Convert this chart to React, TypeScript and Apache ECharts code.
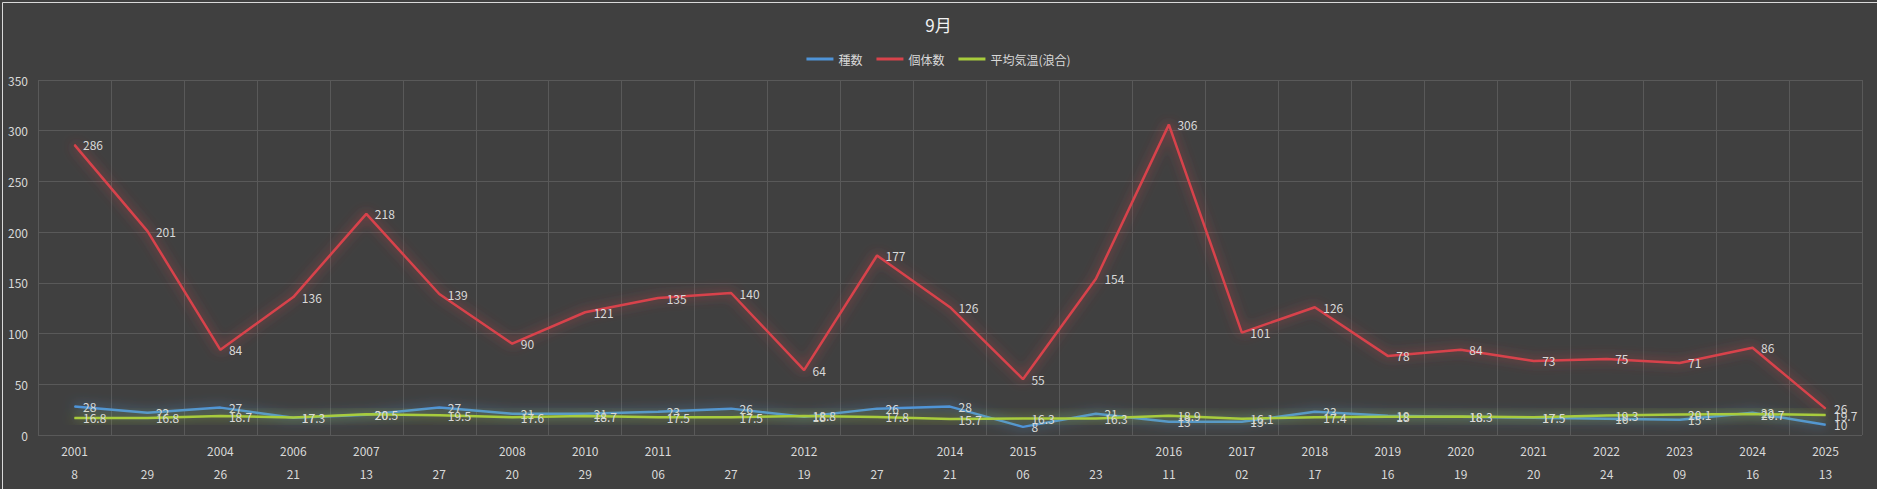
import React, { useEffect, useRef } from "react";
import * as echarts from "echarts";

const years = ["2001", "", "2004", "2006", "2007", "", "2008", "2010", "2011", "", "2012", "", "2014", "2015", "", "2016", "2017", "2018", "2019", "2020", "2021", "2022", "2023", "2024", "2025"];
const days = ["8", "29", "26", "21", "13", "27", "20", "29", "06", "27", "19", "27", "21", "06", "23", "11", "02", "17", "16", "19", "20", "24", "09", "16", "13"];
const speciesCount = [28, 22, 27, 17, 20, 27, 21, 21, 23, 26, 18, 26, 28, 8, 21, 13, 13, 23, 19, 18, 17, 16, 15, 22, 10];
const individualCount = [286, 201, 84, 136, 218, 139, 90, 121, 135, 140, 64, 177, 126, 55, 154, 306, 101, 126, 78, 84, 73, 75, 71, 86, 26];
const avgTemp = [16.8, 16.8, 18.7, 17.3, 20.5, 19.5, 17.6, 18.7, 17.5, 17.5, 18.8, 17.8, 15.7, 16.3, 16.3, 18.9, 16.1, 17.4, 18, 18.3, 17.5, 19.3, 20.1, 20.7, 19.7];
const yTicks = { min: 0, max: 350, interval: 50 };

const FONT = "'Noto Sans CJK JP', 'Noto Sans', sans-serif";
const TEXT = "#d9d9d9";
const GRID = "#595959";

function mkSeries(name: string, data: number[], color: string, glow: string, z: number, dy: number) {
  return {
    name,
    type: "line",
    data,
    z,
    symbol: "circle",
    symbolSize: 1,
    showSymbol: true,
    lineStyle: { color, width: 2.5, shadowBlur: 12, shadowColor: glow },
    itemStyle: { color },
    label: {
      show: true,
      position: "right",
      distance: 8,
      offset: [0, dy],
      color: TEXT,
      fontSize: 12,
      fontFamily: FONT,
    },
    labelLayout: { hideOverlap: false },
  };
}

export default function App() {
  const ref = useRef<HTMLDivElement>(null);
  useEffect(() => {
    document.body.style.margin = "0";
    const chart = echarts.init(ref.current!, null, { renderer: "svg" });
    chart.setOption({
      animation: false,
      backgroundColor: "#404040",
      textStyle: { fontFamily: FONT },
      title: {
        text: "9月",
        left: "center",
        top: 11,
        textStyle: { color: "#f2f2f2", fontSize: 17, fontWeight: "normal", fontFamily: FONT },
      },
      legend: {
        top: 48,
        left: "center",
        icon: "rect",
        itemWidth: 27,
        itemHeight: 3,
        itemGap: 14,
        textStyle: { color: TEXT, fontSize: 12, fontFamily: FONT },
        data: ["種数", "個体数", "平均気温(浪合)"],
      },
      graphic: [
        {
          type: "rect",
          left: 0,
          top: 0,
          shape: { x: 0.5, y: 0.5, width: 1876, height: 488 },
          style: { fill: "none", stroke: "#d9d9d9", lineWidth: 1 },
          silent: true,
        },
      ],
      grid: { left: 38, right: 15, top: 80, bottom: 54, containLabel: false },
      xAxis: [
        {
          type: "category",
          data: years,
          boundaryGap: true,
          axisLine: { show: false },
          axisTick: { show: false },
          splitLine: { show: true, interval: 0, lineStyle: { color: GRID, width: 1 } },
          axisLabel: { interval: 0, color: TEXT, fontSize: 12, margin: 9, fontFamily: FONT },
        },
        {
          type: "category",
          data: days,
          position: "bottom",
          offset: 23,
          boundaryGap: true,
          axisLine: { show: false },
          axisTick: { show: false },
          splitLine: { show: false },
          axisLabel: { interval: 0, color: TEXT, fontSize: 12, margin: 9, fontFamily: FONT },
        },
      ],
      yAxis: {
        type: "value",
        min: yTicks.min,
        max: yTicks.max,
        interval: yTicks.interval,
        axisLine: { show: false },
        axisTick: { show: false },
        splitLine: { show: true, lineStyle: { color: GRID, width: 1 } },
        axisLabel: { color: TEXT, fontSize: 12, margin: 10, fontFamily: FONT },
      },
      series: [
        mkSeries("種数", speciesCount, "#4f94d8", "rgba(79,148,216,0.85)", 3, -2),
        mkSeries("個体数", individualCount, "#d8434b", "rgba(216,67,75,0.85)", 2, 0),
        mkSeries("平均気温(浪合)", avgTemp, "#a8cc3c", "rgba(168,204,60,0.85)", 4, 3),
      ],
    });
    return () => chart.dispose();
  }, []);
  return <div ref={ref} style={{ width: 1877, height: 489 }} />;
}
